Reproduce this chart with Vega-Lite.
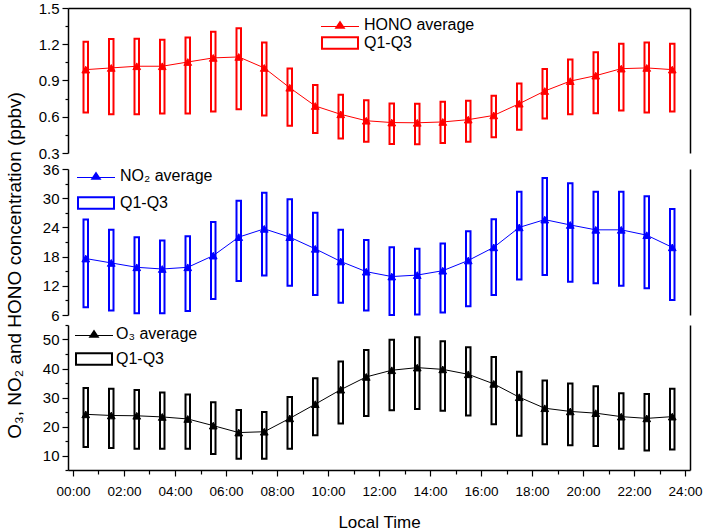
{
  "$schema": "https://vega.github.io/schema/vega-lite/v6.json",
  "padding": {"left": 4, "top": 1, "right": 5, "bottom": 5},
  "config": {
    "view": {"stroke": null},
    "font": "Liberation Sans",
    "axis": {"domainColor": "black", "tickColor": "black", "labelColor": "black", "titleColor": "black", "domainWidth": 1.5, "tickWidth": 1.2, "grid": false, "labelFont": "Liberation Sans", "titleFont": "Liberation Sans", "titleFontWeight": "normal"},
    "legend": {"labelFont": "Liberation Sans", "labelColor": "black"}
  },
  "datasets": {
    "hono": [
      {"h": 0.5, "q1": 0.635, "mean": 0.99, "q3": 1.22},
      {"h": 1.5, "q1": 0.62, "mean": 1.004, "q3": 1.243},
      {"h": 2.5, "q1": 0.62, "mean": 1.018, "q3": 1.245},
      {"h": 3.5, "q1": 0.626, "mean": 1.018, "q3": 1.237},
      {"h": 4.5, "q1": 0.626, "mean": 1.053, "q3": 1.256},
      {"h": 5.5, "q1": 0.643, "mean": 1.087, "q3": 1.303},
      {"h": 6.5, "q1": 0.662, "mean": 1.095, "q3": 1.333},
      {"h": 7.5, "q1": 0.61, "mean": 1.004, "q3": 1.215},
      {"h": 8.5, "q1": 0.525, "mean": 0.84, "q3": 0.999},
      {"h": 9.5, "q1": 0.465, "mean": 0.689, "q3": 0.862},
      {"h": 10.5, "q1": 0.421, "mean": 0.62, "q3": 0.782},
      {"h": 11.5, "q1": 0.394, "mean": 0.567, "q3": 0.736},
      {"h": 12.5, "q1": 0.374, "mean": 0.552, "q3": 0.71},
      {"h": 13.5, "q1": 0.372, "mean": 0.55, "q3": 0.708},
      {"h": 14.5, "q1": 0.383, "mean": 0.557, "q3": 0.725},
      {"h": 15.5, "q1": 0.394, "mean": 0.576, "q3": 0.733},
      {"h": 16.5, "q1": 0.43, "mean": 0.611, "q3": 0.774},
      {"h": 17.5, "q1": 0.492, "mean": 0.708, "q3": 0.876},
      {"h": 18.5, "q1": 0.585, "mean": 0.813, "q3": 0.995},
      {"h": 19.5, "q1": 0.62, "mean": 0.895, "q3": 1.073},
      {"h": 20.5, "q1": 0.629, "mean": 0.94, "q3": 1.133},
      {"h": 21.5, "q1": 0.652, "mean": 0.998, "q3": 1.204},
      {"h": 22.5, "q1": 0.635, "mean": 1.004, "q3": 1.215},
      {"h": 23.5, "q1": 0.643, "mean": 0.99, "q3": 1.204}
    ],
    "no2": [
      {"h": 0.5, "q1": 7.6, "mean": 17.6, "q3": 25.6},
      {"h": 1.5, "q1": 6.9, "mean": 16.7, "q3": 23.5},
      {"h": 2.5, "q1": 6.35, "mean": 15.8, "q3": 22.0},
      {"h": 3.5, "q1": 6.35, "mean": 15.45, "q3": 21.3},
      {"h": 4.5, "q1": 6.8, "mean": 15.8, "q3": 22.2},
      {"h": 5.5, "q1": 9.3, "mean": 18.2, "q3": 25.1},
      {"h": 6.5, "q1": 13.0, "mean": 22.0, "q3": 29.5},
      {"h": 7.5, "q1": 14.1, "mean": 23.7, "q3": 31.1},
      {"h": 8.5, "q1": 12.0, "mean": 22.0, "q3": 29.8},
      {"h": 9.5, "q1": 10.1, "mean": 19.6, "q3": 27.0},
      {"h": 10.5, "q1": 8.5, "mean": 17.0, "q3": 23.5},
      {"h": 11.5, "q1": 6.9, "mean": 14.9, "q3": 21.4},
      {"h": 12.5, "q1": 6.0, "mean": 13.9, "q3": 19.9},
      {"h": 13.5, "q1": 6.1, "mean": 14.2, "q3": 19.6},
      {"h": 14.5, "q1": 6.5, "mean": 15.1, "q3": 20.7},
      {"h": 15.5, "q1": 7.8, "mean": 17.2, "q3": 23.2},
      {"h": 16.5, "q1": 10.1, "mean": 19.9, "q3": 25.7},
      {"h": 17.5, "q1": 13.3, "mean": 24.0, "q3": 31.3},
      {"h": 18.5, "q1": 14.2, "mean": 25.6, "q3": 34.15},
      {"h": 19.5, "q1": 12.85, "mean": 24.5, "q3": 33.05},
      {"h": 20.5, "q1": 12.5, "mean": 23.5, "q3": 31.3},
      {"h": 21.5, "q1": 12.0, "mean": 23.5, "q3": 31.3},
      {"h": 22.5, "q1": 11.5, "mean": 22.4, "q3": 30.4},
      {"h": 23.5, "q1": 9.1, "mean": 19.9, "q3": 27.8}
    ],
    "o3": [
      {"h": 0.5, "q1": 12.9, "mean": 24.2, "q3": 33.3},
      {"h": 1.5, "q1": 12.6, "mean": 23.8, "q3": 33.0},
      {"h": 2.5, "q1": 12.3, "mean": 23.7, "q3": 32.6},
      {"h": 3.5, "q1": 12.3, "mean": 23.3, "q3": 31.7},
      {"h": 4.5, "q1": 12.3, "mean": 22.6, "q3": 31.0},
      {"h": 5.5, "q1": 10.5, "mean": 20.3, "q3": 28.4},
      {"h": 6.5, "q1": 8.85, "mean": 17.9, "q3": 25.7},
      {"h": 7.5, "q1": 8.85, "mean": 18.2, "q3": 25.0},
      {"h": 8.5, "q1": 12.3, "mean": 22.8, "q3": 30.2},
      {"h": 9.5, "q1": 17.0, "mean": 27.7, "q3": 36.6},
      {"h": 10.5, "q1": 21.0, "mean": 32.7, "q3": 42.4},
      {"h": 11.5, "q1": 23.6, "mean": 37.1, "q3": 46.4},
      {"h": 12.5, "q1": 25.6, "mean": 39.4, "q3": 49.9},
      {"h": 13.5, "q1": 26.0, "mean": 40.3, "q3": 50.8},
      {"h": 14.5, "q1": 25.4, "mean": 39.7, "q3": 49.4},
      {"h": 15.5, "q1": 23.8, "mean": 38.0, "q3": 47.3},
      {"h": 16.5, "q1": 20.8, "mean": 34.7, "q3": 44.0},
      {"h": 17.5, "q1": 16.8, "mean": 30.1, "q3": 38.9},
      {"h": 18.5, "q1": 13.9, "mean": 26.3, "q3": 35.9},
      {"h": 19.5, "q1": 13.5, "mean": 25.2, "q3": 34.8},
      {"h": 20.5, "q1": 13.3, "mean": 24.6, "q3": 33.9},
      {"h": 21.5, "q1": 12.3, "mean": 23.4, "q3": 31.5},
      {"h": 22.5, "q1": 11.7, "mean": 22.8, "q3": 31.2},
      {"h": 23.5, "q1": 12.1, "mean": 23.4, "q3": 33.0}
    ]
  },
  "spacing": 16,
  "bounds": "flush",
  "resolve": {"scale": {"x": "independent", "y": "independent", "shape": "independent"}, "legend": {"shape": "independent"}},
  "vconcat": [
    {
      "width": 622, "height": 145,
      "data": {"name": "hono"},
      "resolve": {"axis": {"x": "independent", "y": "independent"}},
      "layer": [
        {
          "mark": {"type": "bar", "size": 4.5, "fill": "transparent", "stroke": "#ff0000", "strokeWidth": 2},
          "encoding": {
            "x": {"field": "h", "type": "quantitative", "scale": {"domain": [0, 24], "nice": false, "zero": false}, "axis": {"orient": "top", "labels": false, "ticks": false, "title": null}},
            "y": {"field": "q1", "type": "quantitative", "scale": {"domain": [0.3, 1.5], "nice": false, "zero": false},
              "axis": {"orient": "left", "title": null, "values": [0.3, 0.45, 0.6, 0.75, 0.9, 1.05, 1.2, 1.35, 1.5], "labelExpr": "round(datum.value*100) % 30 == 0 ? format(datum.value, '.1f') : ''", "tickSize": {"condition": {"test": "round(datum.value*100) % 30 == 0", "value": 6}, "value": 3}, "labelFontSize": 15, "labelPadding": 3}},
            "y2": {"field": "q3"}
          }
        },
        {
          "mark": {"type": "line", "color": "#ff0000", "strokeWidth": 1},
          "encoding": {
            "x": {"field": "h", "type": "quantitative", "axis": null},
            "y": {"field": "mean", "type": "quantitative", "axis": {"orient": "right", "labels": false, "ticks": false, "title": null}}
          }
        },
        {
          "mark": {"type": "point", "shape": "triangle-up", "filled": true, "fill": "#ff0000", "stroke": "#ff0000", "strokeWidth": 1, "fillOpacity": 1, "size": 60, "opacity": 1},
          "encoding": {
            "x": {"field": "h", "type": "quantitative", "axis": null},
            "y": {"field": "mean", "type": "quantitative", "axis": null}
          }
        },
        {
          "mark": {"type": "point", "filled": true, "color": "#ff0000", "opacity": 0},
          "encoding": {
            "x": {"field": "h", "type": "quantitative", "axis": null},
            "y": {"field": "mean", "type": "quantitative", "axis": null},
            "shape": {"datum": "HONO average", "type": "nominal",
              "scale": {"domain": ["HONO average", "Q1-Q3"], "range": ["M-3.8,0.2H3.8V0.4H-3.8Z M-1.1,0.75L0,-0.9L1.1,0.75Z", "M-3.8,-1.35H3.8V1.35H-3.8Z M-3.4,-0.95V0.95H3.4V-0.95Z"]},
              "legend": {"title": null, "orient": "none", "legendX": 264, "legendY": 9, "padding": 0, "symbolSize": 100, "labelFontSize": 16, "labelOffset": 16, "rowPadding": 2, "labelLimit": 300, "symbolOpacity": 1, "symbolFillColor": "#ff0000", "symbolStrokeWidth": 0, "symbolStrokeColor": "#ff0000"}
            }
          }
        }
      ]
    },
    {
      "spacing": 10,
      "bounds": "flush",
      "resolve": {"scale": {"x": "independent", "y": "independent", "shape": "independent"}, "legend": {"shape": "independent"}},
      "vconcat": [
        {
          "width": 622, "height": 146,
          "data": {"name": "no2"},
          "resolve": {"axis": {"x": "independent", "y": "independent"}},
          "layer": [
            {
              "mark": {"type": "bar", "size": 4.5, "fill": "transparent", "stroke": "#0000ff", "strokeWidth": 2},
              "encoding": {
                "x": {"field": "h", "type": "quantitative", "scale": {"domain": [0, 24], "nice": false, "zero": false}, "axis": null},
                "y": {"field": "q1", "type": "quantitative", "scale": {"domain": [6, 36], "nice": false, "zero": false},
                  "axis": {"orient": "left", "title": "O₃, NO₂ and HONO concentration (ppbv)", "titleFontSize": 19, "titleX": -44, "titleY": 96, "values": [6, 9, 12, 15, 18, 21, 24, 27, 30, 33, 36], "labelExpr": "datum.value % 6 == 0 ? datum.value : ''", "tickSize": {"condition": {"test": "datum.value % 6 == 0", "value": 6}, "value": 3}, "labelFontSize": 15, "labelPadding": 3}},
                "y2": {"field": "q3"}
              }
            },
            {
              "mark": {"type": "line", "color": "#0000ff", "strokeWidth": 1},
              "encoding": {
                "x": {"field": "h", "type": "quantitative", "axis": null},
                "y": {"field": "mean", "type": "quantitative", "axis": {"orient": "right", "labels": false, "ticks": false, "title": null}}
              }
            },
            {
              "mark": {"type": "point", "shape": "triangle-up", "filled": true, "fill": "#0000ff", "stroke": "#0000ff", "strokeWidth": 1, "fillOpacity": 1, "size": 60, "opacity": 1},
              "encoding": {
                "x": {"field": "h", "type": "quantitative", "axis": null},
                "y": {"field": "mean", "type": "quantitative", "axis": null}
              }
            },
            {
              "mark": {"type": "point", "filled": true, "color": "#0000ff", "opacity": 0},
              "encoding": {
                "x": {"field": "h", "type": "quantitative", "axis": null},
                "y": {"field": "mean", "type": "quantitative", "axis": null},
                "shape": {"datum": "NO₂ average", "type": "nominal",
                  "scale": {"domain": ["NO₂ average", "Q1-Q3"], "range": ["M-3.8,0.2H3.8V0.4H-3.8Z M-1.1,0.75L0,-0.9L1.1,0.75Z", "M-3.8,-1.35H3.8V1.35H-3.8Z M-3.4,-0.95V0.95H3.4V-0.95Z"]},
                  "legend": {"title": null, "orient": "none", "legendX": 20, "legendY": -1, "padding": 0, "symbolSize": 100, "labelFontSize": 16, "labelOffset": 16, "rowPadding": 11, "labelLimit": 300, "symbolOpacity": 1, "symbolFillColor": "#0000ff", "symbolStrokeWidth": 0, "symbolStrokeColor": "#0000ff"}
                }
              }
            }
          ]
        },
        {
          "width": 622, "height": 145,
          "data": {"name": "o3"},
          "resolve": {"axis": {"x": "independent", "y": "independent"}},
          "layer": [
            {
              "mark": {"type": "bar", "size": 4.5, "fill": "transparent", "stroke": "#000000", "strokeWidth": 2},
              "encoding": {
                "x": {"field": "h", "type": "quantitative", "scale": {"domain": [0, 24], "nice": false, "zero": false},
                  "axis": {"orient": "bottom", "values": [0, 1, 2, 3, 4, 5, 6, 7, 8, 9, 10, 11, 12, 13, 14, 15, 16, 17, 18, 19, 20, 21, 22, 23, 24], "labelExpr": "datum.value % 2 == 0 ? (datum.value < 10 ? '0' : '') + datum.value + ':00' : ''", "tickSize": {"condition": {"test": "datum.value % 2 == 0", "value": 6}, "value": 4}, "labelFontSize": 13.5, "labelPadding": 8, "title": "Local Time", "titleFontSize": 17, "titlePadding": 17, "labelFlush": false, "labelOverlap": false}},
                "y": {"field": "q1", "type": "quantitative", "scale": {"domain": [5, 55], "nice": false, "zero": false},
                  "axis": {"orient": "left", "title": null, "values": [5, 10, 15, 20, 25, 30, 35, 40, 45, 50, 55], "labelExpr": "datum.value % 10 == 0 ? datum.value : ''", "tickSize": {"condition": {"test": "datum.value % 10 == 0", "value": 6}, "value": 3}, "labelFontSize": 15, "labelPadding": 3}},
                "y2": {"field": "q3"}
              }
            },
            {
              "mark": {"type": "line", "color": "#000000", "strokeWidth": 1},
              "encoding": {
                "x": {"field": "h", "type": "quantitative", "axis": null},
                "y": {"field": "mean", "type": "quantitative", "axis": {"orient": "right", "labels": false, "ticks": false, "title": null}}
              }
            },
            {
              "mark": {"type": "point", "shape": "triangle-up", "filled": true, "fill": "#000000", "stroke": "#000000", "strokeWidth": 1, "fillOpacity": 1, "size": 60, "opacity": 1},
              "encoding": {
                "x": {"field": "h", "type": "quantitative", "axis": null},
                "y": {"field": "mean", "type": "quantitative", "axis": null}
              }
            },
            {
              "mark": {"type": "point", "filled": true, "color": "#000000", "opacity": 0},
              "encoding": {
                "x": {"field": "h", "type": "quantitative", "axis": null},
                "y": {"field": "mean", "type": "quantitative", "axis": null},
                "shape": {"datum": "O₃ average", "type": "nominal",
                  "scale": {"domain": ["O₃ average", "Q1-Q3"], "range": ["M-3.8,0.2H3.8V0.4H-3.8Z M-1.1,0.75L0,-0.9L1.1,0.75Z", "M-3.8,-1.35H3.8V1.35H-3.8Z M-3.4,-0.95V0.95H3.4V-0.95Z"]},
                  "legend": {"title": null, "orient": "none", "legendX": 18, "legendY": 1, "padding": 0, "symbolSize": 100, "labelFontSize": 16, "labelOffset": 14, "rowPadding": 9, "labelLimit": 300, "symbolOpacity": 1, "symbolFillColor": "#000000", "symbolStrokeWidth": 0, "symbolStrokeColor": "#000000"}
                }
              }
            }
          ]
        }
      ]
    }
  ]
}
